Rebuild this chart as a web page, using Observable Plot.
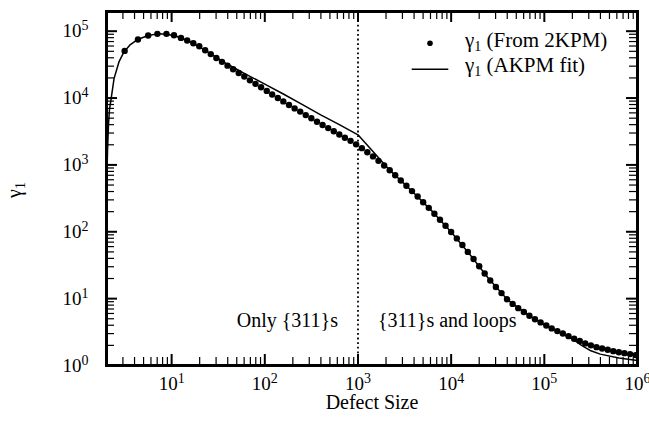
<!DOCTYPE html>
<html><head><meta charset="utf-8">
<script src="https://cdn.jsdelivr.net/npm/d3@7"></script>
<script src="https://cdn.jsdelivr.net/npm/@observablehq/plot@0.6"></script>
<style>body{margin:0;background:#fff} svg{display:block}</style>
</head><body><div id="chart"></div>
<script>
// γ1 from 2KPM (dots)
const dotX = [3.13, 4.35, 5.6, 7.03, 8.8, 10.6, 12.6, 14.7, 17.1, 19.8,
  22.9, 26.3, 30.2, 34.7, 39.8, 45.7, 52.5, 60.3, 69.2, 79.4, 91.2, 105, 120, 138, 158, 182, 209, 240, 275, 316, 363, 417, 479, 550, 631, 724, 832, 955,
  1100, 1260, 1450, 1660, 1910, 2190, 2510, 2880, 3310, 3800, 4370, 5010, 5750, 6610, 7590, 8710, 10000, 11500, 13200, 15100,
  17400, 20000, 22900, 26300, 30200, 34700, 39800, 45700, 52500, 60300, 69200, 79400, 91200, 105000, 120000, 138000, 158000, 182000, 209000, 240000,
  275000, 316000, 363000, 417000, 479000, 550000, 631000, 724000, 832000, 955000];
const dotY = [50700, 75200, 86300, 91200, 91200, 87100, 79400, 72400, 66100, 59600,
  51900, 45400, 39800, 34800, 30500, 27000, 23700, 21000, 18400, 16300, 14500, 12800, 11300, 10000, 8910, 7890, 7000, 6270, 5560, 4980, 4420, 3950, 3550, 3180, 2850, 2550, 2290, 2030,
  1780, 1550, 1340, 1150, 982, 832, 700, 586, 489, 406, 337, 277, 228, 186, 151, 123, 99.1, 79.6, 63.4, 50.0,
  39.1, 30.5, 23.8, 18.7, 14.9, 12.1, 9.77, 8.34, 7.21, 6.30, 5.55, 4.92, 4.41, 3.96, 3.59, 3.27, 3.01, 2.75, 2.51, 2.32,
  2.14, 2.00, 1.88, 1.80, 1.72, 1.64, 1.58, 1.53, 1.48, 1.43];
// γ1 AKPM fit (line)
const fitX = [2.0, 2.05, 2.1, 2.15, 2.26, 2.41, 2.72, 3.08, 3.55, 4.37, 5.62, 7.08, 8.91, 11.2, 15.8, 25.1, 39.8, 63.1, 100, 158,
  251, 398, 631, 1000, 2040, 2510, 3980, 6310, 10000, 15800, 25100, 39800, 63100, 100000, 158000, 200000, 251000, 316000, 398000, 631000, 1000000];
const fitY = [400, 1580, 3980, 6610, 10500, 19500, 34700, 49000, 61700, 75900, 86100, 91200, 90200, 84100, 70000, 47900, 32000, 22600, 16200, 11500,
  8040, 5600, 4010, 2820, 931, 700, 380, 200, 99, 46.2, 20.2, 9.77, 6.03, 4.10, 2.95, 2.51, 2.0, 1.66, 1.48, 1.29, 1.19];

const divider = [1000];
const xMajor = [10, 100, 1000, 10000, 100000, 1000000];
const xTickLabels = ["10^1", "10^2", "10^3", "10^4", "10^5", "10^6"];
const yMajor = [1, 10, 100, 1000, 10000, 100000];
const yTickLabels = ["10^0", "10^1", "10^2", "10^3", "10^4", "10^5"];
const xDomain = [2, 1000000];
const yDomain = [1, 197000];
const regionLabels = ["Only {311}s", "{311}s and loops"];
const xLabel = "Defect Size";
const legendLabels = [" (From 2KPM)", " (AKPM fit)"];

function minorTicks(lo, hi) {
  const a = [];
  for (let e = Math.floor(Math.log10(lo)); e <= Math.ceil(Math.log10(hi)); e++)
    for (let m = 2; m <= 9; m++) { const v = m * 10 ** e; if (v > lo && v < hi) a.push(v); }
  return a;
}
const xMinor = minorTicks(xDomain[0], xDomain[1]);
const yMinor = minorTicks(yDomain[0], yDomain[1]);

const dots = dotX.map((x, i) => ({x, y: dotY[i]}));
const fit = fitX.map((x, i) => ({x, y: fitY[i]}));

const W = 649, H = 424, mL = 106, mR = 12, mT = 11, mB = 59;
const fw = W - mL - mR, fh = H - mT - mB;
const FONT = "'Liberation Serif', 'Times New Roman', serif";

const svg = Plot.plot({
  width: W, height: H,
  marginLeft: mL, marginRight: mR, marginTop: mT, marginBottom: mB,
  style: {fontFamily: FONT, fontSize: "19px", color: "black", background: "white"},
  x: {type: "log", domain: xDomain},
  y: {type: "log", domain: yDomain},
  marks: [
    Plot.ruleX(divider, {stroke: "black", strokeWidth: 1.8, strokeDasharray: "1.8,2.8"}),
    Plot.line(fit, {x: "x", y: "y", stroke: "black", strokeWidth: 1.5}),
    Plot.dot(dots, {x: "x", y: "y", r: 3.2, fill: "black", stroke: "none"}),
    // ticks on all four sides, pointing inward
    Plot.ruleX(xMajor, {insetTop: fh - 11, stroke: "black", strokeWidth: 2}),
    Plot.ruleX(xMinor, {insetTop: fh - 8, stroke: "black", strokeWidth: 1.2}),
    Plot.ruleX(xMajor, {insetBottom: fh - 11, stroke: "black", strokeWidth: 2}),
    Plot.ruleX(xMinor, {insetBottom: fh - 8, stroke: "black", strokeWidth: 1.2}),
    Plot.ruleY(yMajor, {insetRight: fw - 11, stroke: "black", strokeWidth: 2}),
    Plot.ruleY(yMinor, {insetRight: fw - 8, stroke: "black", strokeWidth: 1.2}),
    Plot.ruleY(yMajor, {insetLeft: fw - 11, stroke: "black", strokeWidth: 2}),
    Plot.ruleY(yMinor, {insetLeft: fw - 8, stroke: "black", strokeWidth: 1.2}),
    Plot.axisX({ticks: xMajor, tickSize: 0, tickPadding: 11, label: null,
      tickFormat: d => xTickLabels[xMajor.indexOf(d)]}),
    Plot.axisY({ticks: yMajor, tickSize: 0, tickPadding: 18, label: null,
      tickFormat: d => yTickLabels[yMajor.indexOf(d)]}),
    Plot.text(divider, {x: d => d, frameAnchor: "bottom", dy: -38.5, dx: -20, textAnchor: "end", fontSize: 20, text: () => regionLabels[0], fill: "black"}),
    Plot.text(divider, {x: d => d, frameAnchor: "bottom", dy: -38.5, dx: 20, textAnchor: "start", fontSize: 20, text: () => regionLabels[1], fill: "black"}),
    Plot.text([xLabel], {frameAnchor: "bottom", dy: 43, fontSize: 20, text: d => d, fill: "black"}),
    Plot.frame({stroke: "black", strokeWidth: 3})
  ]
});

const s = d3.select(svg);
// superscripts for tick labels
s.selectAll("text").each(function () {
  const m = /^10\^(\d)$/.exec(this.textContent);
  if (m) {
    const t = d3.select(this);
    t.text("10");
    t.append("tspan").attr("dy", -7).attr("font-size", 14).text(m[1]);
  }
});

// y-axis label γ1 (rotated)
const yl = s.append("text").attr("transform", "translate(21,190) rotate(-90)")
  .attr("text-anchor", "middle").attr("font-family", FONT).attr("font-size", 20).attr("fill", "black");
yl.append("tspan").text("γ");
yl.append("tspan").attr("dy", 4).attr("font-size", 14).text("1");

// legend
const lg = s.append("g").attr("font-family", FONT).attr("font-size", 21).attr("fill", "black").attr("text-anchor", "start");
lg.append("circle").attr("cx", 430).attr("cy", 43.3).attr("r", 2.8).attr("fill", "black");
lg.append("line").attr("x1", 411.7).attr("x2", 448.3).attr("y1", 69.3).attr("y2", 69.3).attr("stroke", "black").attr("stroke-width", 1.5);
[[46.7, legendLabels[0]], [71.7, legendLabels[1]]].forEach(([y, lab]) => {
  const t = lg.append("text").attr("x", 465).attr("y", y).attr("text-anchor", "start");
  t.append("tspan").text("γ");
  t.append("tspan").attr("dy", 4).attr("font-size", 14).text("1");
  t.append("tspan").attr("dy", -4).text(lab);
});

document.getElementById("chart").appendChild(svg);
</script>
</body></html>
